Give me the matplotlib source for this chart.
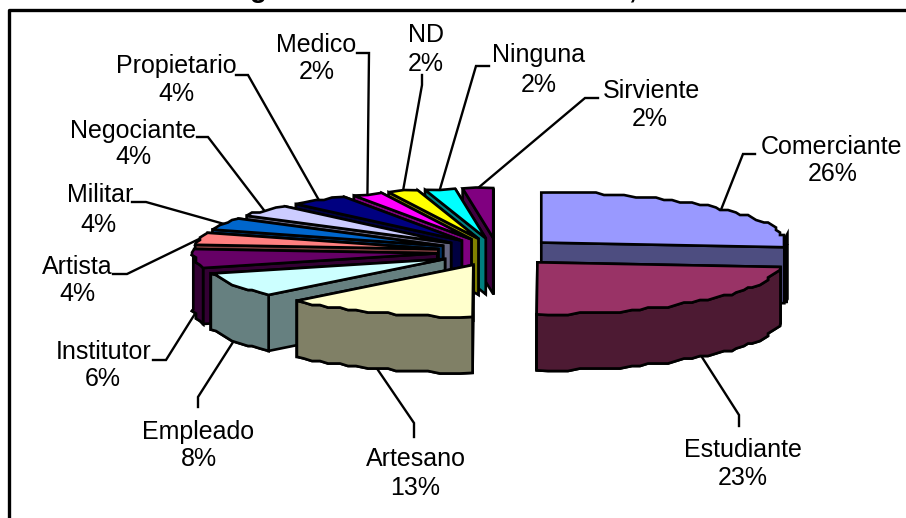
"""Exploded 3D-style pie of occupations, drawn as polygons on a pixel-sized axes."""

import matplotlib

matplotlib.use("Agg")
import matplotlib.pyplot as plt
import numpy as np

plt.rcParams["font.family"] = ["Liberation Sans", "DejaVu Sans"]

categories = [
    "Comerciante", "Estudiante", "Artesano", "Empleado", "Institutor", "Artista", "Militar",
    "Negociante", "Propietario", "Medico", "ND", "Ninguna", "Sirviente",
]
percent_labels = ["26%", "23%", "13%", "8%", "6%", "4%", "4%", "4%", "4%", "2%", "2%", "2%", "2%"]
# unrounded shares
shares = [26.4, 23.6, 12.8, 7.6, 5.9, 3.9, 3.9, 3.9, 3.9, 2.0, 2.0, 2.0, 2.0]
colors = [
    "#9999FF", "#993366", "#FFFFCC", "#CCFFFF", "#660066", "#FF8080", "#0066CC",
    "#CCCCFF", "#000080", "#FF00FF", "#FFFF00", "#00FFFF", "#800080",
]

# label layout in image pixels: name centre, percent centre
name_xy = [
    (832, 147), (743, 450), (416, 459), (198, 432), (104, 352), (77, 267), (100, 195),
    (133, 131), (176, 66), (316, 45), (426, 35), (539, 55), (651, 91),
]
percent_xy = [
    (833, 174), (743, 478), (415, 488), (199, 459), (103, 379), (77, 294), (98, 225),
    (133, 157), (176, 94), (317, 72), (426, 64), (539, 85), (650, 119),
]
# leader lines: start beside the label, elbow, then on to the slice rim
leader_start = [
    (755, 154), (739, 426), (414, 437), (198, 407), (153, 360), (113, 274), (132, 202),
    (197, 137), (236, 75), (357, 53), (422, 75), (489, 66), (598, 98),
]
leader_elbow = [
    (743, 154), (739, 415), (414, 423), (198, 397), (166, 360), (127, 274), (146, 202),
    (208, 137), (248, 75), (369, 53), (422, 85), (476, 66), (585, 98),
]

CENTER = (497, 252)
EXPLODE = (60, 14)
RX = 244
RY_BACK, RY_FRONT = 50, 52
DEPTH = 56
OUTLINE = 1.9


def darken(color):
    rgb = np.array(matplotlib.colors.to_rgb(color))
    return tuple(rgb * 0.5)


def rim(apex, theta):
    """Point on the top ellipse, theta clockwise from 12 o'clock in radians."""
    ry = RY_BACK if np.cos(theta) > 0 else RY_FRONT
    return np.array([apex[0] + RX * np.sin(theta), apex[1] - ry * np.cos(theta)])


def arc(apex, start, end):
    # the source chart has coarse, slightly stepped curves
    n = max(2, int(np.degrees(end - start) / 2.5) + 1)
    pts = np.array([rim(apex, t) for t in np.linspace(start, end, n)])
    pts[1:-1, 0] = np.round(pts[1:-1, 0] / 4) * 4
    pts[1:-1, 1] = np.round(pts[1:-1, 1] / 2.5) * 2.5
    return pts


def fill(ax, pts, color, zorder, linewidth=OUTLINE):
    ax.fill(pts[:, 0], pts[:, 1], facecolor=color, edgecolor="black", linewidth=linewidth,
            joinstyle="miter", zorder=zorder)


def draw_slice(ax, apex, start, end, color, zorder):
    apex = np.array(apex)
    drop = np.array([0, DEPTH])
    wall = darken(color)

    def cut_face(theta):
        edge = rim(apex, theta)
        return np.array([apex, edge, edge + drop, apex + drop])

    low = max(start, np.pi / 2)
    high = min(end, 3 * np.pi / 2)
    if low < high:
        edge = arc(apex, low, high)
        # a very short piece of outer wall reads as a solid black band in the source
        width = 5.0 if high - low < np.radians(10) else OUTLINE
        fill(ax, np.vstack([edge, (edge + drop)[::-1]]), wall, zorder, linewidth=width)

    # hidden cut face first, then the one that faces the viewer
    faces = [start, end] if start < np.pi else [end, start]
    for theta in faces:
        fill(ax, cut_face(theta), wall, zorder)

    if low < high and high - low >= np.radians(10):
        edge = arc(apex, low, high)
        fill(ax, np.vstack([edge, (edge + drop)[::-1]]), wall, zorder)

    fill(ax, np.vstack([apex, arc(apex, start, end)]), color, zorder)


def main():
    fig = plt.figure(figsize=(9.06, 5.18), dpi=100)
    ax = fig.add_axes([0, 0, 1, 1])
    ax.set_xlim(0, 906)
    ax.set_ylim(518, 0)
    ax.axis("off")

    # chart frame, only the left and top sides are inside the crop
    ax.plot([9, 9, 906], [518, 10, 10], color="black", linewidth=2.4, zorder=1)
    # bottom of the cropped title line
    ax.text(258, -3, "g", fontsize=20, fontweight="bold", ha="center", va="baseline")
    ax.text(632, -3, ",", fontsize=20, fontweight="bold", ha="center", va="baseline")

    fractions = np.array(shares) / np.sum(shares)
    edges = np.concatenate([[0], np.cumsum(fractions)]) * 2 * np.pi
    mids = (edges[:-1] + edges[1:]) / 2
    apexes = [
        (CENTER[0] + EXPLODE[0] * np.sin(m), CENTER[1] - EXPLODE[1] * np.cos(m)) for m in mids
    ]

    # back to front: left half from the top down, then the right half
    order = list(range(len(shares) - 1, 1, -1)) + [0, 1]
    for z, i in enumerate(order):
        draw_slice(ax, apexes[i], edges[i], edges[i + 1], colors[i], 3 + z)

    for i, name in enumerate(categories):
        end_pt = rim(apexes[i], mids[i])
        if np.pi / 2 < mids[i] < 3 * np.pi / 2:
            end_pt = end_pt + [0, DEPTH]
        xs = [leader_start[i][0], leader_elbow[i][0], end_pt[0]]
        ys = [leader_start[i][1], leader_elbow[i][1], end_pt[1]]
        ax.plot(xs, ys, color="black", linewidth=1.7, solid_joinstyle="miter", zorder=2)
        ax.text(*name_xy[i], name, fontsize=18, ha="center", va="center", color="black")
        ax.text(*percent_xy[i], percent_labels[i], fontsize=18, ha="center", va="center",
                color="black")

    fig.savefig("out.png", dpi=100)
    plt.close("all")


if __name__ == "__main__":
    main()
